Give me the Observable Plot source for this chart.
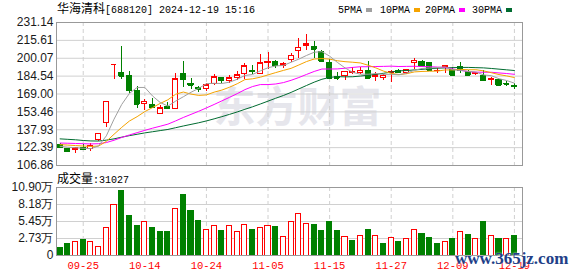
<!DOCTYPE html>
<html><head><meta charset="utf-8">
<script src="https://cdn.jsdelivr.net/npm/d3@7"></script>
<script src="https://cdn.jsdelivr.net/npm/@observablehq/plot@0.6"></script>
<style>
body{margin:0;background:#fff}
#wrap{position:relative;width:578px;height:276px;overflow:hidden;background:#fff}
#wrap > *{position:absolute;margin:0}
.cjk{font-family:"Noto Sans CJK SC",sans-serif;font-size:12px}
.mono{font-family:"Liberation Mono","DejaVu Sans Mono",monospace;font-size:10px}
</style></head><body><div id="wrap"></div>
<script>
const dates = ["09-20","09-23","09-24","09-25","09-26","09-27","09-30","10-08","10-09","10-10",
"10-11","10-14","10-15","10-16","10-17","10-18","10-21","10-22","10-23","10-24",
"10-25","10-28","10-29","10-30","10-31","11-01","11-04","11-05","11-06","11-07",
"11-08","11-11","11-12","11-13","11-14","11-15","11-18","11-19","11-20","11-21",
"11-22","11-25","11-26","11-27","11-28","11-29","12-02","12-03","12-04","12-05",
"12-06","12-09","12-10","12-11","12-12","12-13","12-16","12-17","12-18","12-19"];
const tickLabels = ["09-25","10-14","10-24","11-05","11-15","11-27","12-09","12-19"];
const open = [125.05,121.0,120.1,122.5,121.3,129.4,143.8,194.5,186.9,184.9,
171.9,160.3,159.4,151.9,158.0,156.0,186.3,177.7,173.9,173.0,
177.7,183.1,180.0,182.9,186.3,189.2,186.3,195.9,196.7,193.0,
198.5,206.6,210.6,210.0,205.1,195.9,183.4,184.6,187.3,187.5,
189.2,184.0,182.9,187.2,189.0,187.2,195.6,196.7,195.9,189.0,
191.2,189.8,192.1,187.8,186.3,184.9,181.1,181.1,177.9,175.6];
const high = [125.6,121.6,121.9,125.1,125.6,134.9,162.1,194.5,210.0,188.6,
175.3,164.1,165.5,158.9,161.2,187.2,197.0,182.9,175.6,178.5,
186.0,183.4,184.9,188.6,195.9,193.8,203.1,204.8,198.5,196.4,
204.5,217.5,221.0,214.6,206.6,199.3,187.5,188.6,192.1,192.1,
197.3,187.8,186.3,189.2,190.7,190.7,199.9,198.5,196.4,191.2,
194.1,192.1,196.2,189.8,187.8,189.2,183.4,182.0,179.7,177.7];
const low = [121.6,117.8,117.5,119.9,119.3,127.9,139.5,181.7,181.7,169.6,
156.8,154.5,156.8,150.8,155.1,156.0,174.8,172.5,170.4,171.3,
176.2,178.2,178.2,181.1,182.0,186.3,185.7,190.7,191.2,191.5,
196.4,200.2,206.6,200.2,197.3,182.9,181.1,180.5,186.3,185.7,
182.0,180.0,181.1,179.1,186.9,185.7,190.7,192.1,189.2,186.9,
186.9,184.9,186.9,184.6,185.5,179.7,176.8,175.9,175.9,173.3];
const close = [122.16,118.7,121.9,120.4,124.2,134.3,162.1,194.5,184.6,171.9,
160.3,162.3,157.4,156.5,156.2,182.0,181.3,176.8,173.0,176.8,
183.7,180.3,182.9,185.5,193.0,188.3,195.9,196.4,193.6,195.0,
202.2,209.4,212.3,207.7,197.3,182.9,182.5,188.3,187.9,189.2,
182.9,185.5,184.9,187.8,187.5,189.8,197.9,193.0,189.8,189.4,
193.0,185.5,189.8,185.5,186.9,180.5,182.0,176.8,177.4,175.1];
const volume = [1.18,1.92,2.24,2.46,2.24,1.44,4.43,8.12,10.26,6.36,
4.65,5.29,4.33,3.69,3.69,7.48,9.62,7.21,5.61,4.11,
4.76,3.90,4.76,3.69,4.92,4.01,4.33,4.76,4.49,2.99,
5.45,6.68,5.08,4.92,3.85,5.29,3.85,2.99,2.40,3.15,
4.01,3.15,1.87,2.83,2.24,2.67,4.11,3.37,2.83,1.87,
2.19,2.72,3.79,3.21,2.67,5.29,3.15,2.67,2.67,3.10];
const ma5 = [123.5,122.8,122.3,121.8,121.5,123.9,132.6,147.1,159.9,169.5,
174.7,174.7,167.3,161.6,158.5,162.8,166.6,170.5,173.9,178.0,
178.3,178.1,179.3,181.8,185.1,186.0,189.1,191.8,193.4,193.8,
196.6,199.3,202.5,205.3,205.8,201.9,196.5,191.7,187.8,186.2,
186.2,186.8,186.1,186.1,185.7,187.1,189.6,191.2,191.6,192.0,
192.6,190.1,189.5,188.6,188.1,185.6,184.9,182.3,180.7,178.4];
const ma10 = [125.0,124.6,124.2,123.8,123.4,123.8,127.8,134.0,140.0,145.5,
149.3,153.7,157.2,160.8,164.0,168.8,170.7,168.9,167.8,168.2,
170.6,172.4,174.9,177.9,181.5,182.2,183.6,185.6,187.6,189.5,
191.3,194.2,197.2,199.4,199.8,199.3,197.9,197.1,196.6,196.0,
194.0,191.7,188.9,186.9,185.9,186.6,188.2,188.6,188.8,188.9,
189.9,189.9,190.4,190.1,190.1,189.1,187.5,185.9,184.7,183.3];
const ma20 = [126.4,126.2,126.0,125.8,125.6,125.8,126.8,128.8,131.2,133.4,
135.4,137.4,139.3,141.0,142.8,145.6,148.6,151.3,154.0,156.9,
159.9,163.0,166.1,169.3,172.8,175.5,177.2,177.2,177.7,178.9,
180.9,183.3,186.0,188.6,190.7,190.7,190.8,191.4,192.1,192.7,
192.7,192.9,193.0,193.2,192.9,193.0,193.1,192.9,192.7,192.4,
192.0,190.8,189.6,188.5,188.0,187.9,187.9,187.3,186.8,186.1];
const ma30 = [130.0,129.6,129.2,128.6,128.2,128.1,128.9,130.0,131.5,132.8,
134.0,135.2,136.2,137.2,138.2,139.7,141.2,142.6,144.0,145.6,
147.4,149.3,151.3,153.4,155.7,157.9,160.3,162.8,165.3,167.7,
170.4,173.4,176.4,179.3,181.8,183.4,184.1,183.9,184.0,184.6,
185.3,186.1,187.0,188.1,189.1,189.4,189.9,190.4,191.0,191.4,
191.7,191.9,192.1,192.1,191.9,191.7,191.2,190.6,190.0,189.4];
const yTicks = [106.86,122.39,137.93,153.46,169.00,184.54,200.07,215.61,231.14];
const volTicks = [0,2.725,5.45,8.175,10.90];
const volLabels = ["0","2.73万","5.45万","8.18万","10.90万"];
const maNames = ["5PMA","10PMA","20PMA","30PMA"];
const maColors = ["#a0a0a0","#f5a300","#ff00ff","#006b30"];

const UP = "#ff0000", DOWN = "#008000", GRID = "#d0d0d0", FRAME = "#999999";
const idx = d3.range(dates.length);
const candles = idx.map(i => ({i, o: open[i], h: high[i], l: low[i], c: close[i], up: close[i] >= open[i]}));
const vols = idx.map(i => ({i, v: volume[i], up: i === 0 ? close[0] >= open[0] : close[i] >= close[i - 1]}));
const tickIdx = tickLabels.map(t => dates.indexOf(t));
const xDomain = [-0.47, 60.05];
const hw = 0.33;
const axisFont = "Arial, 'Liberation Sans', sans-serif";

const mas = [ma5, ma10, ma20, ma30];

const price = Plot.plot({
  width: 578, height: 170,
  marginLeft: 56, marginRight: 56, marginTop: 22, marginBottom: 5,
  x: {domain: xDomain, axis: null},
  y: {domain: [yTicks[0], yTicks[yTicks.length - 1]], label: null},
  color: {type: "identity"},
  style: {background: "transparent", overflow: "visible"},
  marks: [
    Plot.text(["东方财富"], {frameAnchor: "top-left", dx: 157, dy: 70, textAnchor: "start", fontSize: 42, fontWeight: "bold", fontFamily: "Noto Sans CJK SC", fill: "#e6e6ec"}),
    Plot.gridY(yTicks, {stroke: GRID, strokeOpacity: 1}),
    Plot.ruleX(tickIdx, {stroke: GRID, strokeOpacity: 1, strokeDasharray: "4,3"}),
    Plot.ruleX(candles, {x: "i", y1: "l", y2: "h", stroke: d => d.up ? UP : DOWN, shapeRendering: "crispEdges"}),
    Plot.rect(candles, {x1: d => d.i - hw, x2: d => d.i + hw, y1: "o", y2: "c", fill: d => d.up ? "#ffffff" : DOWN, stroke: d => d.up ? UP : DOWN, shapeRendering: "crispEdges"}),
    Plot.ruleY(candles, {y: "c", x1: d => d.i - hw, x2: d => d.i + hw, stroke: d => d.up ? UP : DOWN, shapeRendering: "crispEdges"}),
    ...[3, 2, 1, 0].map(k => Plot.line(idx, {x: d => d, y: d => mas[k][d], stroke: maColors[k], strokeWidth: 1})),
    Plot.axisY(yTicks, {label: null, tickSize: 0, tickPadding: 3, tickFormat: d => d.toFixed(2), fontSize: 12, fontFamily: axisFont, color: "#1a1a1a"}),
    Plot.frame({stroke: FRAME})
  ]
});

const volPlot = Plot.plot({
  width: 578, height: 106,
  marginLeft: 56, marginRight: 56, marginTop: 17, marginBottom: 21,
  x: {domain: xDomain, label: null},
  y: {domain: [0, volTicks[volTicks.length - 1]], label: null},
  color: {type: "identity"},
  style: {background: "transparent", overflow: "visible"},
  marks: [
    Plot.gridY(volTicks, {stroke: GRID, strokeOpacity: 1}),
    Plot.ruleX(tickIdx, {stroke: GRID, strokeOpacity: 1, strokeDasharray: "4,3"}),
    Plot.rect(vols, {x1: d => d.i - hw, x2: d => d.i + hw, y1: 0, y2: "v", fill: d => d.up ? "#ffffff" : DOWN, stroke: d => d.up ? UP : DOWN, shapeRendering: "crispEdges"}),
    Plot.axisY(volTicks, {label: null, tickSize: 0, tickPadding: 3, tickFormat: d => volLabels[volTicks.indexOf(d)], fontSize: 12, fontFamily: axisFont, color: "#1a1a1a"}),
    Plot.axisX(tickIdx, {label: null, tickSize: 0, tickPadding: 6, tickFormat: d => dates[d], fontSize: 10.5, fontFamily: "'Liberation Mono', monospace", color: UP}),
    Plot.frame({stroke: FRAME})
  ]
});

const wrap = document.getElementById("wrap");
price.style.left = "0px"; price.style.top = "0px";
volPlot.style.left = "0px"; volPlot.style.top = "170px";
wrap.appendChild(price);
wrap.appendChild(volPlot);

function add(html, css) {
  const el = document.createElement("div");
  el.innerHTML = html;
  Object.assign(el.style, css);
  wrap.appendChild(el);
  return el;
}
add('<span class="cjk">华海清科</span><span class="mono">[688120] 2024-12-19 15:16</span>', {left: "57px", top: "0px", lineHeight: "16px", color: "#000", whiteSpace: "nowrap"});
const legendX = [338, 380, 425, 472];
maNames.forEach((n, k) => {
  add('<span class="mono">' + n + '</span><span style="display:inline-block;width:6px;height:4px;margin-left:4px;vertical-align:1px;background:' + maColors[k] + '"></span>',
      {left: legendX[k] + "px", top: "1px", lineHeight: "14px", color: "#000", whiteSpace: "nowrap"});
});
add('<span class="cjk">成交量</span><span class="mono">:31027</span>', {left: "57px", top: "170px", lineHeight: "16px", color: "#000", whiteSpace: "nowrap"});
add('www.365jz.com', {left: "455px", top: "249px", fontFamily: "'Liberation Serif', serif", fontSize: "17px", fontWeight: "bold", color: "#223f88", whiteSpace: "nowrap", textShadow: "0 0 2px #fff"});
</script></body></html>
